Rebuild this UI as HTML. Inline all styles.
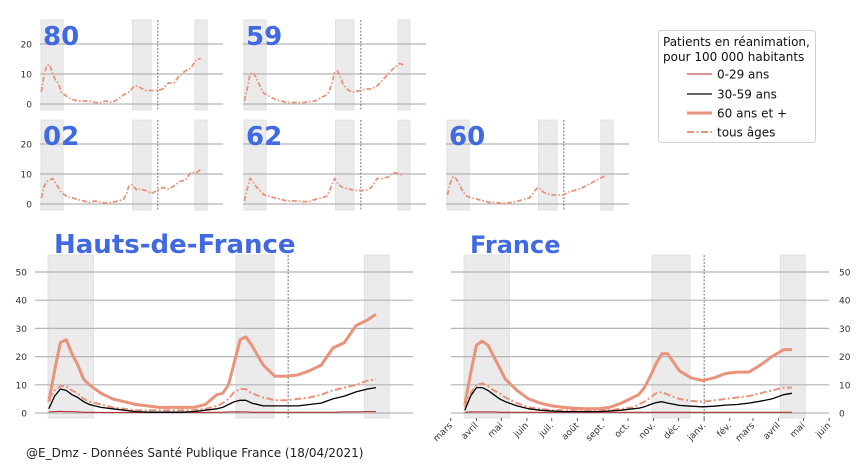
<!DOCTYPE html>
<html><head><meta charset="utf-8">
<style>
html,body{margin:0;padding:0;background:#fff;}
body{width:864px;height:460px;overflow:hidden;font-family:"Liberation Sans","DejaVu Sans",sans-serif;}
svg text{font-family:"DejaVu Sans","Liberation Sans",sans-serif;}
</style></head>
<body>
<svg id="chart" width="864" height="460" viewBox="0 0 864 460" xmlns="http://www.w3.org/2000/svg"></svg>
<script>
// days since 2020-03-01
const days=[17,24,31,38,45,52,59,66,80,94,108,122,136,150,164,178,192,206,220,227,234,241,248,255,262,276,290,304,318,332,346,360,374,388,402,412];
const monthLabels=["mars","avril","mai","juin","juil.","août","sept.","oct.","nov.","déc.","janv.","fév.","mars","avril","mai","juin"];
const monthDays=[0,31,61,92,122,153,184,214,245,275,306,337,365,396,426,457];
const lockdowns=[[16,71],[243,289],[398,428]];
const jan1=306;
const smallTicks=[0,10,20];
const bigTicks=[0,10,20,30,40,50];
// small panels: tous âges
const dep80=[4,10,13,13,10,8,7,4,2.5,1.5,1,1,1,0.5,0.5,1,0.5,1.5,3,3.5,4,5,6,6,5.5,4.5,4.5,4.5,5,7,7,9.5,11,12,15,15];
const dep59=[1,5,10,10.5,9,7,5,3.5,2.5,1.5,1,0.5,0.5,0.5,0.5,0.8,1,2,3,4,7,10.5,11,9,6.5,4.5,4,4.5,5,5,6,8,10,12,13.5,13];
const dep02=[2,6,7.5,8,8.5,7,5.5,4,2.5,2,1.5,1,0.5,1,0.5,0.3,0.5,1,1.5,3,6,6.5,5.5,4.5,5,4.5,3.5,4.5,5.5,5,6,7.5,8,10.5,10.5,11.5];
const dep62=[1,5,8.5,7.5,6,5,4,3,2.5,2,1.5,1,1,1,0.8,0.8,1.5,2,2.5,4,6.5,8.5,7,6,5.5,5,4.5,4.5,4.5,5.5,8.5,8.5,9,10.5,10,9.5];
const dep60=[3,7,9,8.5,7,5,3.5,2.5,2,1.5,1,0.5,0.5,0.3,0.3,0.5,1,1.5,2,3,4.5,5.5,5,4,3.5,3,3,3,4,4.5,5,6,7,8,9,9.5];
// Hauts-de-France
const hdf60=[4,15,25,26,21,17,12,10,7,5,4,3,2.5,2,2,2,2,3,6.5,7,10,18,26,27,24,17,13,13,13.5,15,17,23,25,31,33,35];
const hdfAll=[5,8,9.5,9.5,8,7,5,4,3,2,1.5,1,1,1,1,1,1,1.5,2.5,3.5,5,7.5,8.5,8.5,7,5.5,4.5,4.5,5,5.5,6.5,8,9,10,11.5,12];
const hdf30=[1.5,6,8.5,8,6.5,5.5,4,3,2,1.5,1,0.5,0.3,0.3,0.3,0.3,0.5,1,1.5,2,3,4,4.5,4.5,3.5,2.5,2.5,2.5,2.5,3,3.5,5,6,7.5,8.5,9];
const hdf0=[0.4,0.5,0.6,0.5,0.5,0.4,0.3,0.3,0.2,0.2,0.2,0.2,0.2,0.2,0.2,0.2,0.2,0.2,0.3,0.3,0.4,0.4,0.4,0.4,0.3,0.3,0.3,0.3,0.3,0.3,0.3,0.3,0.4,0.4,0.5,0.5];
// France
const fr60=[3,14,24,25.5,24,20,16,12,8,5,3.5,2.5,2,1.7,1.5,1.5,2,3.5,5.5,6.5,9,13,17.5,21,21,15,12.5,11.5,12.5,14,14.5,14.5,17,20,22.5,22.5];
const frAll=[2,7,10,10.5,9.5,8,7,5.5,3.5,2,1.5,1,1,1,1,1,1,1.5,2,3,4,5.5,7,7.5,6.5,5,4.3,4,4.5,5,5.5,6,7,8,9,9];
const fr30=[1,6,9,9,8,6.5,5,4,2.5,1.5,1,0.7,0.5,0.5,0.5,0.5,0.7,1,1.5,1.7,2.2,3,3.7,4,3.5,2.7,2.4,2.2,2.4,2.8,3,3.5,4.2,5,6.5,7];
const fr0=[0.3,0.4,0.4,0.4,0.4,0.4,0.3,0.3,0.3,0.3,0.3,0.3,0.3,0.3,0.3,0.3,0.3,0.3,0.3,0.3,0.3,0.3,0.3,0.3,0.3,0.3,0.3,0.3,0.3,0.3,0.3,0.3,0.3,0.3,0.3,0.3];

const NS="http://www.w3.org/2000/svg";
const svg=document.getElementById('chart');
function mk(tag,attrs,parent){const e=document.createElementNS(NS,tag);for(const k in attrs)e.setAttribute(k,attrs[k]);(parent||svg).appendChild(e);return e;}
const C60="#e8937a",C30="#000",C0="#b22222",BLUE="#4169e1";

function panel(o){
  const g=mk('g',{});
  
  
  const xs=d=>o.x0+(d-16)*o.k;
  const ys=v=>o.y0-v*o.ky;
  lockdowns.forEach(l=>{
    const r=mk('rect',{x:xs(l[0]),y:o.top,width:xs(l[1])-xs(l[0]),height:o.bot-o.top,fill:"#ebebeb",stroke:"#dcdcdc","stroke-width":0.8},g);
    
    
  });
  o.ticks.forEach(t=>{
    const ln=mk('line',{x1:o.gx0,x2:o.gx1,y1:ys(t),y2:ys(t),stroke:"#b4b4b4","stroke-width":1.2},g);
    
    
    if(o.labels!==false){
      const tx=mk('text',{x:o.right?o.gx1+10:o.gx0-8,y:ys(t)+3.5,"font-size":o.fs,fill:"#333","text-anchor":o.right?"start":"end"},g);
      tx.textContent=t;
      
      
    }
  });
  const dl=mk('line',{x1:xs(jan1),x2:xs(jan1),y1:o.top,y2:o.bot,stroke:"#555","stroke-width":0.8,"stroke-dasharray":"2,1.5"},g);
  
  
  o.series.forEach(s=>{
    const pts=days.map((d,i)=>xs(d).toFixed(1)+","+ys(s.v[i]).toFixed(1)).join(" ");
    const p=mk('polyline',{points:pts,fill:"none",stroke:s.c,"stroke-width":s.w,"stroke-linejoin":"round","stroke-dasharray":s.dash||"none"},g);
    
    
  });
  const t=mk('text',{x:o.tx,y:o.ty,"font-size":o.tfs,"font-weight":"bold",fill:BLUE},g);
  t.textContent=o.title;
  
  
  if(o.months){
    monthDays.forEach((d,i)=>{
      const x=xs(d);
      const tk=mk('line',{x1:x,x2:x,y1:o.bot,y2:o.bot+3,stroke:"#333","stroke-width":0.8},g);
      
      
      const lb=mk('text',{x:x+2,y:o.bot+8,"font-size":9,fill:"#333","text-anchor":"end",transform:`rotate(-45 ${x+2} ${o.bot+8})`},g);
      lb.textContent=monthLabels[i];
      
      
    });
  }
}
const smallK=0.403;
function small(name,title,dx,row,vals){
  const y0=row===0?104:204;
  panel({name,title,x0:41+dx,k:smallK,y0,ky:3,top:y0-84,bot:y0+6,gx0:40+dx,gx1:40+dx+183,ticks:smallTicks,fs:9,labels:dx===0,
    tx:43+dx,ty:y0-59,tfs:26,series:[{v:vals,c:C60,w:1.8,dash:"5,2,1.5,2",name:'series-tous-ages'}]});
}
small('panel-80','80',0,0,dep80);
small('panel-59','59',203,0,dep59);
small('panel-02','02',0,1,dep02);
small('panel-62','62',203,1,dep62);
small('panel-60','60',406,1,dep60);

function big(name,title,x0,gx0,gx1,right,tx,tfs,s,months){
  panel({name,title,x0,k:0.828,y0:413,ky:2.82,top:255,bot:418,gx0,gx1,ticks:bigTicks,fs:9,right,tx,ty:253,tfs,months,
   series:[{v:s[3],c:C0,w:1,name:'series-0-29'},{v:s[2],c:C60,w:2,dash:"7,2.5,2,2.5",name:'series-tous-ages'},{v:s[1],c:C30,w:1.3,name:'series-30-59'},{v:s[0],c:C60,w:3,name:'series-60-plus'}]});
}
big('panel-hauts-de-france','Hauts-de-France',48,35,413,false,54,26,[hdf60,hdf30,hdfAll,hdf0],false);
big('panel-france','France',464,451,829,true,470,24,[fr60,fr30,frAll,fr0],true);

// legend
const lg=mk('g',{});


mk('rect',{x:658.5,y:30.5,width:157,height:112,rx:3,fill:"#fff",stroke:"#d0d0d0"},lg);
[["Patients en réanimation,",46],["pour 100 000 habitants",61]].forEach(a=>{
  const t=mk('text',{x:663,y:a[1],"font-size":12,fill:"#111"},lg);t.textContent=a[0];
  
  
});
[["0-29 ans",C0,1,"none",74],["30-59 ans","#333",1.5,"none",94],["60 ans et +",C60,3,"none",113],["tous âges",C60,2,"7,2.5,2,2.5",132]].forEach(e=>{
  const en=mk('g',{},lg);
  
  
  mk('line',{x1:687,x2:712,y1:e[4],y2:e[4],stroke:e[1],"stroke-width":e[2],"stroke-dasharray":e[3]},en);
  const t=mk('text',{x:717,y:e[4]+4.5,"font-size":12,fill:"#111"},en);t.textContent=e[0];
});
const ft=mk('text',{x:26,y:457,"font-size":12,fill:"#222"});
ft.textContent="@E_Dmz - Données Santé Publique France (18/04/2021)";


</script>
</body></html>
